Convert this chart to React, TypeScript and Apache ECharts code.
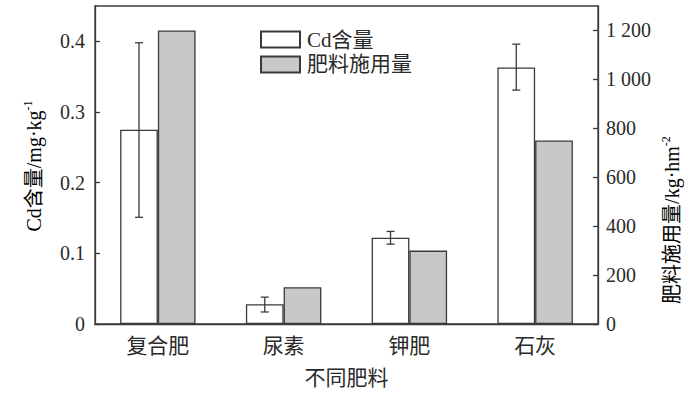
import React, { useEffect, useRef } from "react";
import * as echarts from "echarts";

const categories = ["复合肥", "尿素", "钾肥", "石灰"];
const cdValues = [0.275, 0.028, 0.122, 0.363];
const cdErrLow = [0.151, 0.017, 0.113, 0.331];
const cdErrHigh = [0.398, 0.038, 0.131, 0.396];
const fertValues = [1200, 150, 300, 750];
const leftTicks = [0, 0.1, 0.2, 0.3, 0.4];
const rightTicks = [0, 200, 400, 600, 800, 1000, 1200];

const FONT = "'Liberation Serif', 'Times New Roman', 'Noto Sans CJK SC', serif";
const INK = "#2a2a2a";
const LINE = "#3a3a3a";

export default function App() {
  const ref = useRef<HTMLDivElement>(null);
  useEffect(() => {
    if (!ref.current) return;
    const chart = echarts.init(ref.current, null, { renderer: "svg" });
    const errData = categories.map((_, i) => [i, cdErrLow[i], cdErrHigh[i]]);
    const richName = {
      a: { fontSize: 20, fontFamily: FONT, color: INK, lineHeight: 24 },
      s: { fontSize: 12, fontFamily: FONT, color: INK, verticalAlign: "top", lineHeight: 24 },
    };
    chart.setOption({
      animation: false,
      textStyle: { fontFamily: FONT },
      grid: {
        left: 95,
        right: 102,
        top: 6,
        bottom: 67,
        containLabel: false,
        show: true,
        borderColor: LINE,
        borderWidth: 1.3,
        backgroundColor: "transparent",
      },
      legend: {
        orient: "vertical",
        left: 255,
        top: 24,
        itemWidth: 39,
        itemHeight: 16,
        itemGap: 4,
        icon: "rect",
        textStyle: { fontSize: 21, color: INK, fontFamily: FONT, padding: [0, 0, 0, 2] },
        data: ["Cd含量", "肥料施用量"],
      },
      xAxis: {
        type: "category",
        data: categories,
        axisLine: { lineStyle: { color: LINE, width: 1.3 } },
        axisTick: { inside: true, length: 4, lineStyle: { color: LINE, width: 1.3 } },
        axisLabel: { fontSize: 21, color: INK, margin: 11, fontFamily: FONT },
        name: "不同肥料",
        nameLocation: "middle",
        nameGap: 43,
        nameTextStyle: { fontSize: 21, color: INK, fontFamily: FONT },
      },
      yAxis: [
        {
          type: "value",
          min: 0,
          max: 0.45,
          interval: 0.1,
          splitLine: { show: false },
          axisLine: { show: true, lineStyle: { color: LINE, width: 1.3 } },
          axisTick: { show: true, inside: true, length: 5, customValues: leftTicks, lineStyle: { color: LINE, width: 1.3 } },
          axisLabel: {
            fontSize: 20,
            color: INK,
            margin: 10,
            fontFamily: FONT,
            customValues: leftTicks,
            formatter: (v: number) => (v === 0 ? "0" : v.toFixed(1)),
          },
        },
        {
          type: "value",
          min: 0,
          max: 1300,
          interval: 200,
          position: "right",
          splitLine: { show: false },
          axisLine: { show: true, lineStyle: { color: LINE, width: 1.3 } },
          axisTick: { show: true, inside: true, length: 5, customValues: rightTicks, lineStyle: { color: LINE, width: 1.3 } },
          axisLabel: {
            fontSize: 20,
            color: INK,
            margin: 8,
            fontFamily: FONT,
            customValues: rightTicks,
            formatter: (v: number) =>
              v >= 1000 ? Math.floor(v / 1000) + " " + String(v % 1000).padStart(3, "0") : String(v),
          },
        },
      ],
      graphic: [
        {
          type: "text",
          x: 34,
          y: 166,
          rotation: Math.PI / 2,
          style: {
            text: "{a|Cd含量/mg·kg}{s|-1}",
            rich: richName,
            align: "center",
            verticalAlign: "middle",
          },
        },
        {
          type: "text",
          x: 672,
          y: 220,
          rotation: Math.PI / 2,
          style: {
            text: "{a|肥料施用量/kg·hm}{s|-2}",
            rich: richName,
            align: "center",
            verticalAlign: "middle",
          },
        },
      ],
      series: [
        {
          name: "Cd含量",
          type: "bar",
          yAxisIndex: 0,
          data: cdValues,
          barWidth: "30%",
          barGap: "0%",
          itemStyle: { color: "#ffffff", borderColor: LINE, borderWidth: 1.3 },
        },
        {
          name: "肥料施用量",
          type: "bar",
          yAxisIndex: 1,
          data: fertValues,
          barWidth: "30%",
          barGap: "0%",
          itemStyle: { color: "#c8c8c8", borderColor: LINE, borderWidth: 1.3 },
        },
        {
          type: "custom",
          yAxisIndex: 0,
          z: 10,
          data: errData,
          encode: { x: 0, y: [1, 2] },
          renderItem: (params: any, api: any) => {
            const idx = api.value(0);
            const lo = api.value(1);
            const hi = api.value(2);
            const bw = api.size([1, 0])[0] * 0.3;
            const pLo = api.coord([idx, lo]);
            const pHi = api.coord([idx, hi]);
            const x = pLo[0] - bw / 2;
            const cap = 4;
            const st = { stroke: LINE, lineWidth: 1.3 };
            return {
              type: "group",
              children: [
                { type: "line", shape: { x1: x, y1: pLo[1], x2: x, y2: pHi[1] }, style: st },
                { type: "line", shape: { x1: x - cap, y1: pHi[1], x2: x + cap, y2: pHi[1] }, style: st },
                { type: "line", shape: { x1: x - cap, y1: pLo[1], x2: x + cap, y2: pLo[1] }, style: st },
              ],
            };
          },
        },
      ],
    });
    return () => chart.dispose();
  }, []);
  return <div ref={ref} style={{ width: 700, height: 393, position: "absolute", left: 0, top: 0 }} />;
}
